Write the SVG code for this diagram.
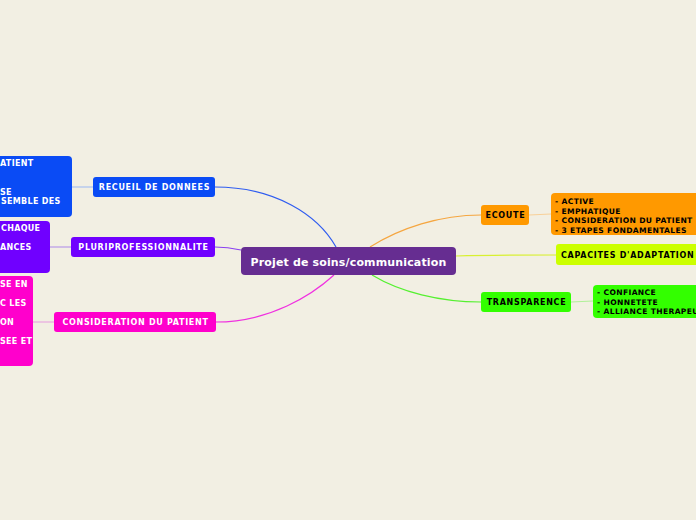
<svg xmlns="http://www.w3.org/2000/svg" width="696" height="520" viewBox="0 0 696 520">
<style>
text{font-family:"DejaVu Sans",Verdana,sans-serif;font-weight:bold}
.w{fill:#fff}
.b{fill:#000}
.s{font-size:8px;letter-spacing:0.7px}
.l{font-size:8px;letter-spacing:0.3px}
.d{font-size:7.6px;letter-spacing:0.35px}
.c{fill:none;stroke-width:1.2}
</style>
<rect width="696" height="520" fill="#f2efe3"/>
<g id="connectors">
<path class="c" stroke="#2f5cf0" d="M215,187 C275,187 318,215 336,247"/>
<path class="c" stroke="#8a40f0" d="M215,247 C225,247 232,248 241,250"/>
<path class="c" stroke="#f030e0" d="M216,322 C270,322 312,295 334,275"/>
<path class="c" stroke="#f5a640" d="M370,247 C400,228 440,215 481,215"/>
<path class="c" stroke="#d8f030" d="M456,256 C490,255 520,255 556,255"/>
<path class="c" stroke="#55f030" d="M372,275 C400,292 440,302 481,302"/>
<path class="c" stroke="#a8c0f0" d="M72,187 L93,187"/>
<path class="c" stroke="#b898e8" d="M50,247 L71,247"/>
<path class="c" stroke="#e8a8e0" d="M33,322 L54,322"/>
<path class="c" stroke="#f8d098" d="M529,215 L551,214"/>
<path class="c" stroke="#b0f098" d="M571,302 L593,301"/>
</g>
<g id="center">
<rect x="241" y="247" width="215" height="28" rx="4" fill="#662d91"/>
<text class="w" x="348.5" y="265.5" font-size="11" letter-spacing="0.15" text-anchor="middle">Projet de soins/communication</text>
</g>
<g id="recueil">
<rect x="93" y="177" width="122" height="20" rx="3" fill="#0a4bf5"/>
<text class="w s" x="154.5" y="190" text-anchor="middle">RECUEIL DE DONNEES</text>
</g>
<g id="recueil-detail">
<rect x="-10" y="156" width="82" height="61" rx="4" fill="#0a4bf5"/>
<text class="w l" x="0" y="166">ATIENT</text>
<text class="w l" x="0" y="195">SE</text>
<text class="w l" x="1" y="204">SEMBLE DES</text>
</g>
<g id="pluri">
<rect x="71" y="237" width="144" height="20" rx="3" fill="#7000ff"/>
<text class="w s" x="143.5" y="250" text-anchor="middle">PLURIPROFESSIONNALITE</text>
</g>
<g id="pluri-detail">
<rect x="-10" y="221" width="60" height="52" rx="4" fill="#7000ff"/>
<text class="w l" x="1" y="231">CHAQUE</text>
<text class="w l" x="0" y="250">ANCES</text>
</g>
<g id="consideration">
<rect x="54" y="312" width="162" height="20" rx="3" fill="#ff00cc"/>
<text class="w s" x="135.5" y="325" text-anchor="middle">CONSIDERATION DU PATIENT</text>
</g>
<g id="consideration-detail">
<rect x="-10" y="276" width="43" height="90" rx="4" fill="#ff00cc"/>
<text class="w l" x="0" y="287">SE EN</text>
<text class="w l" x="0" y="306">C LES</text>
<text class="w l" x="0" y="325">ON</text>
<text class="w l" x="0" y="344">SEE ET</text>
</g>
<g id="ecoute">
<rect x="481" y="205" width="48" height="20" rx="3" fill="#ff9900"/>
<text class="b s" x="505.5" y="218" text-anchor="middle">ECOUTE</text>
</g>
<g id="ecoute-detail">
<rect x="551" y="193" width="155" height="42" rx="4" fill="#ff9900"/>
<text class="b d" x="555" y="204">- ACTIVE</text>
<text class="b d" x="555" y="213.5">- EMPHATIQUE</text>
<text class="b d" x="555" y="223">- CONSIDERATION DU PATIENT</text>
<text class="b d" x="555" y="232.5">- 3 ETAPES FONDAMENTALES</text>
</g>
<g id="capacites">
<rect x="556" y="244" width="150" height="21" rx="3" fill="#ccff00"/>
<text class="b s" x="561" y="258">CAPACITES D'ADAPTATION</text>
</g>
<g id="transparence">
<rect x="481" y="292" width="90" height="20" rx="3" fill="#33ff00"/>
<text class="b s" x="526.5" y="305" text-anchor="middle">TRANSPARENCE</text>
</g>
<g id="transparence-detail">
<rect x="593" y="285" width="113" height="33" rx="4" fill="#33ff00"/>
<text class="b d" x="597" y="295">- CONFIANCE</text>
<text class="b d" x="597" y="304.5">- HONNETETE</text>
<text class="b d" x="597" y="314">- ALLIANCE THERAPEU</text>
</g>
</svg>
